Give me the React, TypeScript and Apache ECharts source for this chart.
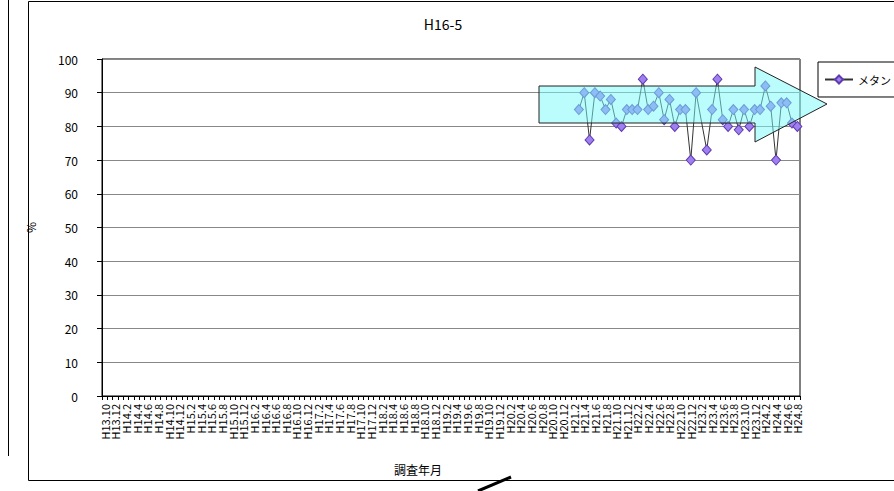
import { useEffect, useRef } from "react";
import * as echarts from "echarts";

// Category axis: survey months (Heisei year.month), H13.10 … H24.8
const firstYear = 13;
const firstMonth = 10;
const lastYear = 24;
const lastMonth = 8;
const categories: string[] = [];
for (let y = firstYear; y <= lastYear; y++) {
  for (let m = 1; m <= 12; m++) {
    if (y === firstYear && m < firstMonth) continue;
    if (y === lastYear && m > lastMonth) continue;
    categories.push(`H${y}.${m}`);
  }
}

// Methane (%) readings, monthly from H21.3 (null = missing month)
const methaneStart = "H21.3";
const methaneValues: (number | null)[] = [
  85, 90, 76, 90, 89, 85, 88, 81, 80, 85, 85, 85, 94, 85, 86, 90, 82, 88, 80, 85, 85, 70, 90,
  null,
  73, 85, 94, 82, 80, 85, 79, 85, 80, 85, 85, 92, 86, 70, 87, 87, 81, 80,
];

const seriesName = "メタン";
const titleText = "H16-5";
const xAxisTitle = "調査年月";
const yAxisTitle = "%";

const FONT = '"Noto Sans CJK JP", "Liberation Sans", sans-serif';

export default function App() {
  const ref = useRef<HTMLDivElement>(null);

  useEffect(() => {
    if (!ref.current) return;
    const chart = echarts.init(ref.current, undefined, { renderer: "svg" });
    const startIdx = categories.indexOf(methaneStart);
    const seriesData = categories.map((_, i) => {
      const k = i - startIdx;
      return k >= 0 && k < methaneValues.length ? methaneValues[k] : null;
    });

    chart.setOption({
      animation: false,
      backgroundColor: "#fff",
      textStyle: { fontFamily: FONT },
      title: {
        text: titleText,
        left: 438,
        top: 12,
        textAlign: "center",
        textStyle: { fontSize: 14, fontWeight: "normal", color: "#000", fontFamily: FONT },
      },
      legend: {
        left: 818,
        top: 62,
        orient: "vertical",
        padding: [12, 80, 12, 6],
        borderColor: "#000",
        borderWidth: 1,
        backgroundColor: "#fff",
        itemWidth: 28,
        itemHeight: 10,
        itemGap: 4,
        textStyle: { fontSize: 11, color: "#000", fontFamily: FONT },
        data: [seriesName],
      },
      grid: {
        left: 102,
        right: 94,
        top: 59,
        bottom: 95,
        show: true,
        borderColor: "#000",
        borderWidth: 1,
        backgroundColor: "transparent",
      },
      xAxis: {
        type: "category",
        data: categories,
        boundaryGap: true,
        axisLine: { lineStyle: { color: "#000", width: 1 } },
        axisTick: { show: true, interval: 0, length: 4, lineStyle: { color: "#000" } },
        axisLabel: {
          interval: 0,
          formatter: (value: string, index: number) => (index % 2 === 0 ? value : ""),
          rotate: 90,
          fontSize: 11,
          color: "#000",
          margin: 8,
          fontFamily: FONT,
          hideOverlap: false,
        },
        splitLine: { show: false },
      },
      yAxis: {
        type: "value",
        min: 0,
        max: 100,
        interval: 10,
        name: yAxisTitle,
        nameLocation: "middle",
        nameGap: 66,
        nameRotate: 90,
        nameTextStyle: { fontSize: 12, color: "#000", fontFamily: FONT },
        axisLine: { show: true, lineStyle: { color: "#000", width: 1 } },
        axisTick: { show: true, length: 5, lineStyle: { color: "#000" } },
        axisLabel: { fontSize: 12, color: "#000", margin: 24, fontFamily: FONT },
        splitLine: { show: true, lineStyle: { color: "#888", width: 1 } },
      },
      series: [
        {
          name: seriesName,
          type: "line",
          data: seriesData,
          connectNulls: true,
          symbol: "diamond",
          symbolSize: [9, 10],
          showSymbol: true,
          showAllSymbol: true,
          lineStyle: { color: "#333", width: 1 },
          itemStyle: { color: "#A080F0", borderColor: "#5E3CB0", borderWidth: 1 },
          z: 3,
        },
      ],
      graphic: [
        {
          type: "rect",
          shape: { x: 28.5, y: 1.5, width: 866, height: 479 },
          style: { fill: "none", stroke: "#000", lineWidth: 1 },
          silent: true,
          z: 0,
        },
        {
          type: "line",
          shape: { x1: 8.5, y1: 0, x2: 8.5, y2: 456 },
          style: { stroke: "#000", lineWidth: 1 },
          silent: true,
        },
        {
          type: "line",
          shape: { x1: 478, y1: 491, x2: 511, y2: 477 },
          style: { stroke: "#000", lineWidth: 3 },
          silent: true,
        },
        {
          type: "text",
          x: 418,
          y: 469,
          style: {
            text: xAxisTitle,
            fontSize: 12,
            fill: "#000",
            fontFamily: FONT,
            align: "center",
            verticalAlign: "middle",
          },
          silent: true,
        },
        {
          type: "polygon",
          shape: {
            points: [
              [539, 86],
              [755, 86],
              [755, 67],
              [827, 104],
              [755, 142],
              [755, 123],
              [539, 123],
            ],
          },
          style: { fill: "rgba(120,250,250,0.5)", stroke: "#222", lineWidth: 1 },
          silent: true,
          z: 100,
        },
      ],
    });

    return () => chart.dispose();
  }, []);

  return (
    <div
      ref={ref}
      style={{ position: "absolute", left: 0, top: 0, width: 894, height: 491 }}
    />
  );
}
